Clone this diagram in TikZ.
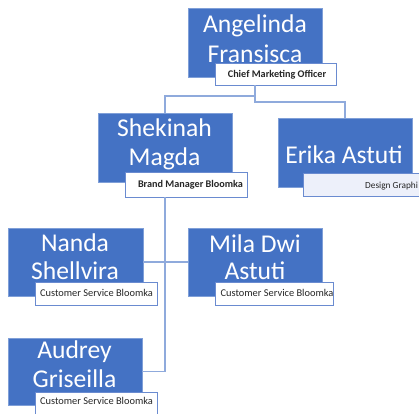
\documentclass[tikz,border=0pt]{standalone}
\usepackage{fontspec}
\setmainfont{Carlito}
\definecolor{boxblue}{HTML}{4472C4}
\definecolor{boxedge}{HTML}{7F9FD8}
\definecolor{labedge}{HTML}{6A8BD0}
\definecolor{lineblue}{HTML}{8FAADC}
\definecolor{lavender}{HTML}{EDF0FA}
\begin{document}
\begin{tikzpicture}[x=1pt,y=-1pt,
  person/.style={fill=boxblue,draw=boxedge,line width=0.8pt,inner sep=0pt,minimum width=134pt,minimum height=69pt},
  role/.style={fill=white,draw=labedge,line width=0.8pt,inner sep=0pt,minimum width=122pt,minimum height=23pt},
  conn/.style={draw=lineblue,line width=1.5pt},
  nametext/.style={font=\fontsize{25.6}{28}\selectfont,text=white,anchor=base,inner sep=0pt},
  roletext/.style={font=\fontsize{10.4}{12}\selectfont,text=black!85,anchor=base,inner sep=0pt},
  roletextb/.style={roletext,font=\fontsize{10.2}{12}\selectfont\bfseries}]
\useasboundingbox (0,0) rectangle (419,413);
\node[person] (ang) at (255,42.5) {};
\node[person] (she) at (165,147.5) {};
\node[person] (eri) at (345,152.5) {};
\node[person,minimum width=135pt,minimum height=68pt] (nan) at (75.5,262) {};
\node[person,minimum height=68pt] (mil) at (255,262) {};
\node[person,minimum height=67pt] (aud) at (75,371.5) {};
\node[role,minimum width=121pt,minimum height=22pt] (alab) at (275.5,74) {};
\node[role,minimum height=25pt] (slab) at (186,184.5) {};
\node[role,fill=lavender] (elab) at (364,184.5) {};
\node[role] (nlab) at (96,293.5) {};
\node[role,minimum width=118pt] (mlab) at (274,293.5) {};
\node[role] (alab2) at (96,403.5) {};
\coordinate (j1) at (255,96);
\coordinate (j2) at (255,102);
\draw[conn] (ang.center |- alab.south) -- (j2) -| (eri.north);
\draw[conn] (j1) -| (she.north);
\draw[conn] (she.center |- slab.south) -- (she.center |- aud.east) -- (aud.east);
\draw[conn] (nan.east) -- (mil.west);
% names
\node[nametext] (t1) at (255,32) {Angelinda};
\node[nametext] (t2) at (255,62) {Fransisca};
\node[nametext] (t3) at (164.5,136.7) {Shekinah};
\node[nametext] (t4) at (164.5,165) {Magda};
\node[nametext] (t5) at (344,163.3) {Erika Astuti};
\node[nametext] (t6) at (75,251.7) {Nanda};
\node[nametext] (t7) at (75,279.3) {Shellvira};
\node[nametext] (t8) at (255,252) {Mila Dwi};
\node[nametext] (t9) at (255,279.3) {Astuti};
\node[nametext] (t10) at (74.5,358.3) {Audrey};
\node[nametext] (t11) at (74.5,387) {Griseilla};
% roles
\node[roletextb] (r1) at (277,77.5) {Chief Marketing Officer};
\node[roletextb] (r2) at (190.5,187.5) {Brand Manager Bloomka};
\node[roletext,font=\fontsize{9.3}{11}\selectfont,anchor=base west] (r3) at (365,188) {Design Graphi};
\node[roletext] (r4) at (96.5,296.5) {Customer Service Bloomka};
\node[roletext] (r5) at (277,296.5) {Customer Service Bloomka};
\node[roletext] (r6) at (96.5,404) {Customer Service Bloomka};
\end{tikzpicture}
\end{document}
